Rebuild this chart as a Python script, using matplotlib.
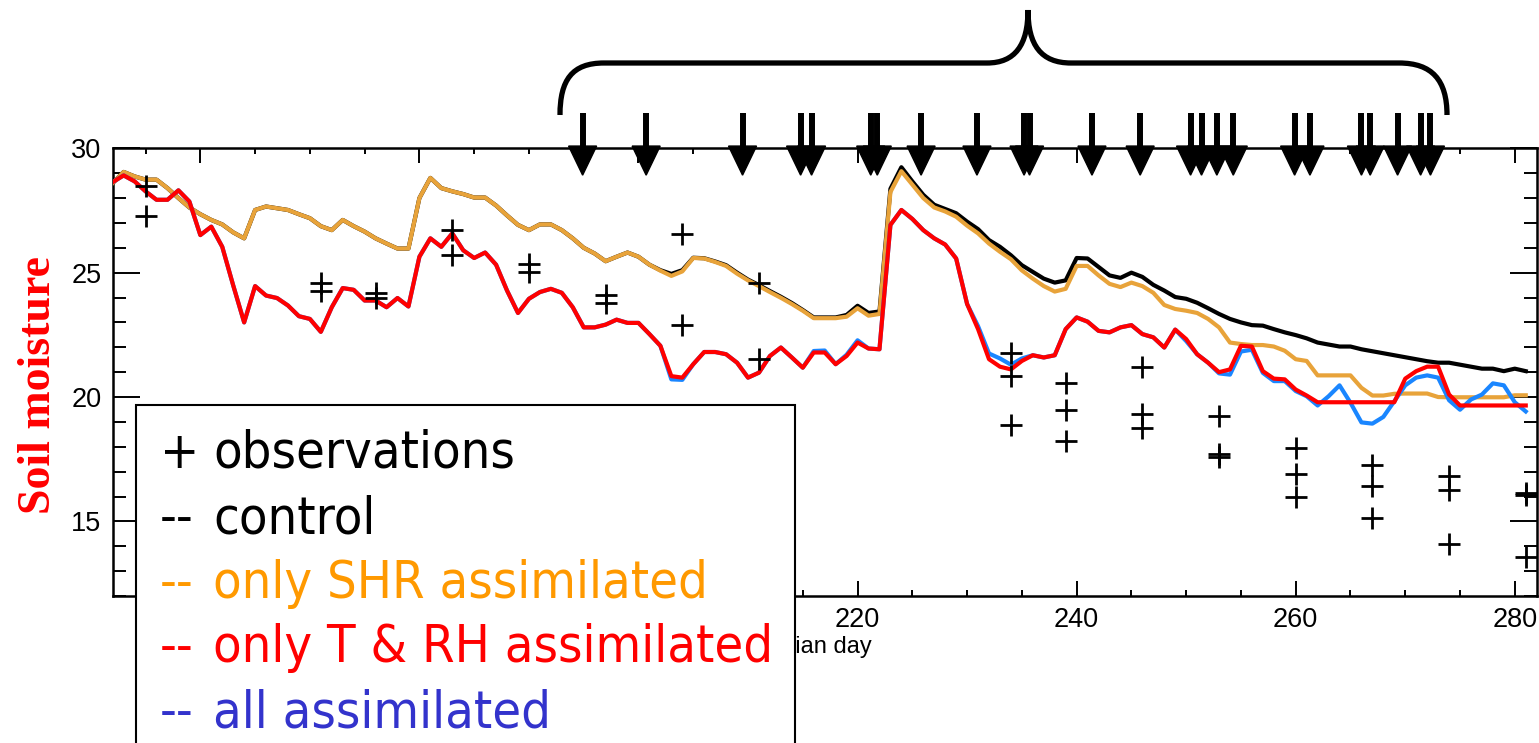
import os
import matplotlib
matplotlib.use('Agg')
import matplotlib.pyplot as plt
import matplotlib.transforms as mtransforms
from matplotlib.patches import Rectangle, PathPatch
from matplotlib.path import Path
from matplotlib.ticker import MultipleLocator
from matplotlib import font_manager

# ---- data ----
days = list(range(152, 282))

control = [28.60, 29.05, 28.87, 28.74, 28.74, 28.40, 28.00, 27.62, 27.35, 27.12,
           26.94, 26.62, 26.38, 27.52, 27.66, 27.59, 27.52, 27.35, 27.19, 26.87,
           26.71, 27.12, 26.87, 26.65, 26.38, 26.17, 25.97, 25.97, 28.00, 28.81,
           28.40, 28.27, 28.16, 28.02, 28.02, 27.70, 27.30, 26.92, 26.71, 26.94,
           26.94, 26.71, 26.38, 26.00, 25.77, 25.46, 25.64, 25.81, 25.64, 25.32,
           25.10, 24.95, 25.10, 25.60, 25.58, 25.45, 25.30, 25.00, 24.72, 24.50,
           24.26, 24.03, 23.78, 23.50, 23.20, 23.20, 23.20, 23.30, 23.67, 23.38,
           23.44, 28.37, 29.24, 28.67, 28.13, 27.73, 27.56, 27.39, 27.05, 26.75,
           26.31, 26.04, 25.70, 25.30, 25.03, 24.76, 24.60, 24.69, 25.59, 25.57,
           25.23, 24.89, 24.79, 25.00, 24.83, 24.51, 24.28, 24.02, 23.95, 23.79,
           23.57, 23.34, 23.14, 23.00, 22.89, 22.87, 22.73, 22.60, 22.49, 22.36,
           22.19, 22.11, 22.03, 22.03, 21.92, 21.84, 21.76, 21.68, 21.60, 21.52,
           21.44, 21.38, 21.38, 21.30, 21.22, 21.14, 21.14, 21.04, 21.14, 21.04]

only_shr = [28.60, 29.05, 28.87, 28.74, 28.74, 28.40, 28.00, 27.62, 27.35, 27.12,
            26.94, 26.62, 26.38, 27.52, 27.66, 27.59, 27.52, 27.35, 27.19, 26.87,
            26.71, 27.12, 26.87, 26.65, 26.38, 26.17, 25.97, 25.97, 28.00, 28.81,
            28.40, 28.27, 28.16, 28.02, 28.02, 27.70, 27.30, 26.92, 26.71, 26.94,
            26.94, 26.71, 26.38, 26.00, 25.77, 25.46, 25.64, 25.81, 25.64, 25.32,
            25.08, 24.87, 25.05, 25.59, 25.57, 25.43, 25.27, 24.96, 24.69, 24.46,
            24.22, 23.99, 23.74, 23.47, 23.17, 23.17, 23.17, 23.23, 23.57, 23.27,
            23.34, 28.24, 29.08, 28.54, 28.00, 27.62, 27.46, 27.25, 26.89, 26.58,
            26.17, 25.84, 25.54, 25.09, 24.76, 24.46, 24.24, 24.35, 25.27, 25.27,
            24.89, 24.55, 24.42, 24.60, 24.46, 24.19, 23.70, 23.54, 23.47, 23.38,
            23.14, 22.80, 22.19, 22.13, 22.09, 22.09, 22.03, 21.86, 21.52, 21.45,
            20.87, 20.87, 20.87, 20.87, 20.37, 20.06, 20.06, 20.13, 20.14, 20.14,
            20.14, 20.00, 19.99, 19.99, 19.99, 19.99, 19.99, 19.99, 20.07, 20.07]

only_t_rh = [28.64, 28.91, 28.67, 28.27, 27.93, 27.93, 28.31, 27.86, 26.51, 26.85,
             26.04, 24.49, 23.00, 24.46, 24.08, 23.98, 23.68, 23.25, 23.14, 22.62,
             23.61, 24.38, 24.31, 23.88, 23.88, 23.61, 23.98, 23.64, 25.64, 26.38,
             26.04, 26.58, 25.90, 25.59, 25.81, 25.32, 24.28, 23.38, 23.95, 24.22,
             24.35, 24.19, 23.61, 22.80, 22.80, 22.91, 23.11, 22.98, 22.98, 22.53,
             22.06, 20.84, 20.78, 21.32, 21.81, 21.81, 21.72, 21.38, 20.78, 20.98,
             21.65, 21.99, 21.59, 21.18, 21.79, 21.79, 21.32, 21.65, 22.19, 21.95,
             21.92, 26.92, 27.52, 27.16, 26.71, 26.38, 26.13, 25.57, 23.74, 22.73,
             21.52, 21.22, 21.11, 21.45, 21.68, 21.59, 21.68, 22.73, 23.20, 23.03,
             22.66, 22.60, 22.80, 22.89, 22.53, 22.40, 21.99, 22.71, 22.33, 21.72,
             21.38, 21.00, 21.11, 22.06, 22.03, 21.04, 20.74, 20.71, 20.30, 20.06,
             19.79, 19.79, 19.79, 19.79, 19.79, 19.79, 19.79, 19.79, 20.74, 21.04,
             21.22, 21.22, 20.10, 19.66, 19.66, 19.66, 19.66, 19.66, 19.66, 19.66]

all_assim = [28.64, 28.91, 28.67, 28.27, 27.93, 27.93, 28.31, 27.86, 26.51, 26.85,
             26.04, 24.49, 23.00, 24.46, 24.08, 23.98, 23.68, 23.25, 23.14, 22.62,
             23.61, 24.38, 24.31, 23.88, 23.88, 23.61, 23.98, 23.64, 25.64, 26.38,
             26.04, 26.58, 25.90, 25.59, 25.81, 25.32, 24.28, 23.38, 23.95, 24.22,
             24.35, 24.19, 23.61, 22.80, 22.80, 22.91, 23.11, 22.98, 22.98, 22.53,
             22.06, 20.71, 20.69, 21.32, 21.81, 21.81, 21.72, 21.38, 20.78, 20.98,
             21.65, 21.99, 21.59, 21.18, 21.85, 21.87, 21.32, 21.70, 22.28, 21.95,
             21.92, 26.92, 27.52, 27.16, 26.71, 26.38, 26.13, 25.57, 23.74, 22.85,
             21.75, 21.55, 21.30, 21.55, 21.68, 21.59, 21.68, 22.73, 23.20, 23.03,
             22.66, 22.60, 22.80, 22.89, 22.53, 22.40, 21.99, 22.71, 22.25, 21.72,
             21.38, 20.95, 20.90, 21.83, 21.90, 20.97, 20.64, 20.64, 20.24, 20.03,
             19.66, 20.03, 20.47, 19.77, 18.98, 18.93, 19.20, 19.83, 20.47, 20.78,
             20.87, 20.78, 19.87, 19.49, 19.90, 20.10, 20.55, 20.47, 19.79, 19.42]

obs_days = [155, 155, 171, 171, 176, 176, 183, 183, 190, 190, 197, 197,
            204, 204, 211, 211, 234, 234, 234, 239, 239, 239, 246, 246, 246,
            253, 253, 253, 260, 260, 260, 267, 267, 267, 274, 274, 274,
            281, 281, 281]
obs_vals = [28.47, 27.28, 24.60, 24.25, 24.20, 24.00, 26.71, 25.70, 25.36, 25.03,
            24.11, 23.79, 26.54, 22.89, 24.60, 21.52, 21.76, 20.84, 18.89,
            20.55, 19.49, 18.24, 21.20, 19.30, 18.75, 19.25, 17.71, 17.60,
            17.94, 16.90, 15.98, 17.27, 16.42, 15.15, 16.83, 16.25, 14.10,
            16.16, 16.05, 13.58]

assim_days = [194.9, 200.7, 209.5, 214.8, 215.8, 221.2, 221.8, 225.8, 230.9,
              235.2, 235.7, 241.4, 245.8, 250.4, 251.4, 252.8, 254.3, 259.9,
              261.3, 266.0, 266.8, 269.3, 271.4, 272.3]

xtick_vals = [160, 180, 200, 220, 240, 260, 280]
xtick_text = ['', '', '', '220', '240', '260', '280']  # first three sit under the legend box
ytick_vals = [15, 20, 25, 30]

legend_labels = ['observations', 'control', 'only SHR assimilated',
                 'only T & RH assimilated', 'all assimilated']
legend_marks = ['+', '--', '--', '--', '--']
legend_colors = ['black', 'black', '#FF9900', '#FF0000', '#3333CC']

W, H = 1539, 743


def font_file(name):
    hits = [f.fname for f in font_manager.fontManager.ttflist
            if os.path.basename(f.fname) == name]
    return hits[0] if hits else None


cond = font_file('DejaVuSansCondensed.ttf')
narrow = font_file('LiberationSansNarrow-Regular.ttf')
if cond:
    lfont = font_manager.FontProperties(fname=cond, size=37.5)
elif narrow:
    lfont = font_manager.FontProperties(fname=narrow, size=41)
else:
    lfont = font_manager.FontProperties(family='DejaVu Sans', size=33)

fig = plt.figure(figsize=(W / 100, H / 100), dpi=100)
ax = fig.add_axes([112.7 / W, 1 - 596 / H, 1424 / W, 447.7 / H])

ax.plot(days, control, color='black', lw=3, zorder=3)
ax.plot(days, only_shr, color='#E8A33A', lw=3, zorder=4)
ax.plot(days, all_assim, color='#1A86FF', lw=3, zorder=5)
ax.plot(days, only_t_rh, color='#FF0000', lw=3, zorder=6)
ax.plot(obs_days, obs_vals, ls='none', marker='+', ms=16, mew=2, color='black', zorder=7)

ax.set_xlim(152, 282)
ax.set_ylim(12, 30)
ax.set_xticks(xtick_vals)
ax.set_xticklabels(xtick_text)
ax.set_yticks(ytick_vals)
ax.xaxis.set_minor_locator(MultipleLocator(5))
ax.yaxis.set_minor_locator(MultipleLocator(1))
ax.tick_params(which='both', direction='in', top=True, right=True, width=1.4,
               labelsize=19.5)
ax.tick_params(axis='x', which='major', length=11, pad=8)
ax.tick_params(axis='x', which='minor', length=4.5)
ax.tick_params(axis='y', which='major', length=19.5, pad=8)
ax.tick_params(axis='y', which='minor', length=9.5)
for lab in ax.get_xticklabels() + ax.get_yticklabels():
    lab.set_family('Liberation Sans')
for sp in ax.spines.values():
    sp.set_linewidth(1.8)
ax.set_xlabel('Julian day', fontsize=17, family='Liberation Sans', labelpad=2)
ax.xaxis.label.set_x(0.5 - 6 / 1424)

fig.text(39 / W, 1 - 385 / H, 'Soil moisture', rotation=90, ha='center', va='center',
         color='red', fontsize=33, fontweight='bold', family='Liberation Serif')

# assimilation arrows above the plot
trans = mtransforms.blended_transform_factory(ax.transData, ax.transAxes)
hw = 1.28
for d in assim_days:
    ax.plot([d, d], [1.0, 1.0795], transform=trans, color='black', lw=4.3,
            solid_capstyle='butt', clip_on=False, zorder=8)
    ax.fill([d - hw, d + hw, d], [1.005, 1.005, 0.940], transform=trans,
            color='black', clip_on=False, zorder=8)

# curly brace over the assimilation period
pts = [(560, 115), (560, 80), (572, 63), (604, 63), (987, 63),
       (1015, 63), (1028, 45), (1028, 10),
       (1028, 45), (1041, 63), (1071, 63), (1399, 63),
       (1432, 63), (1447, 80), (1447, 115)]
codes = [Path.MOVETO, Path.CURVE4, Path.CURVE4, Path.CURVE4, Path.LINETO,
         Path.CURVE4, Path.CURVE4, Path.CURVE4,
         Path.CURVE4, Path.CURVE4, Path.CURVE4, Path.LINETO,
         Path.CURVE4, Path.CURVE4, Path.CURVE4]
brace = Path([(x / W, 1 - y / H) for x, y in pts], codes)
fig.add_artist(PathPatch(brace, transform=fig.transFigure, fill=False,
                         lw=3.8, ec='black'))

# legend box (runs past the bottom edge of the figure)
fig.add_artist(Rectangle((136 / W, -0.1), (795 - 136) / W, (743 - 405) / H + 0.1,
                         transform=fig.transFigure, fc='white', ec='black',
                         lw=1.5, zorder=10))
baselines = [468, 533, 598, 662, 727]
for mark, lab, col, yb in zip(legend_marks, legend_labels, legend_colors, baselines):
    fig.text(160 / W, 1 - yb / H, mark, color=col, fontproperties=lfont,
             va='baseline', ha='left', zorder=11)
    fig.text(213 / W, 1 - yb / H, lab, color=col, fontproperties=lfont,
             va='baseline', ha='left', zorder=11)

fig.savefig('out.png', dpi=100)
